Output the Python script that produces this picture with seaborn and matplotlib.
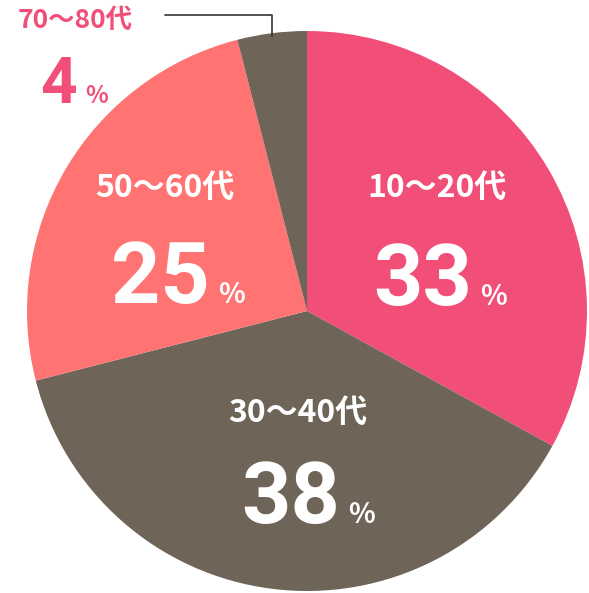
import matplotlib
matplotlib.use("Agg")
from matplotlib import pyplot as plt
import seaborn as sns

sns.set_theme(style="white")
plt.rcParams['font.family'] = ['Noto Sans CJK JP', 'DejaVu Sans']

# data
ages = ['10〜20代', '30〜40代', '50〜60代', '70〜80代']
shares = [33, 38, 25, 4]
colors = ['#F24F78', '#6E6457', '#FF7373', '#6E6457']

W, H = 589, 593
fig = plt.figure(figsize=(W / 100, H / 100), dpi=100)
ax = fig.add_axes([0, 0, 1, 1])

ax.pie(shares, colors=colors, startangle=90, counterclock=False,
       center=(307, H - 311), radius=280, frame=True,
       wedgeprops=dict(linewidth=0))
ax.set_xlim(0, W)
ax.set_ylim(0, H)
ax.set_aspect('equal')
ax.axis('off')

# label layout in pixel coords (x, baseline y)
label_pos = [(437, 197), (298, 422), (165, 197), (75, 28)]
num_pos = [(472, 305), (340, 523), (210, 303), (77, 103)]
label_size = [23, 23, 23, 19]
num_size = [62, 62, 62, 46]
pct_size = [20, 20, 20, 17]
text_colors = ['white', 'white', 'white', '#F24F78']

for i in range(len(ages)):
    c = text_colors[i]
    lx, ly = label_pos[i]
    ax.text(lx, H - ly, ages[i], color=c, fontsize=label_size[i],
            fontweight='bold', ha='center', va='baseline')
    nx, ny = num_pos[i]
    ax.text(nx, H - ny, str(shares[i]), color=c, fontsize=num_size[i],
            fontweight='bold', ha='right', va='baseline', family='Roboto Condensed' if False else 'Roboto')
    ax.text(nx + 8, H - ny, '%', color=c, fontsize=pct_size[i],
            fontweight='bold', ha='left', va='baseline')

# leader line for the small slice
ax.plot([165, 272, 272], [H - 15, H - 15, H - 36], color='#333333', lw=1.2)

fig.savefig('out.png', dpi=100)
